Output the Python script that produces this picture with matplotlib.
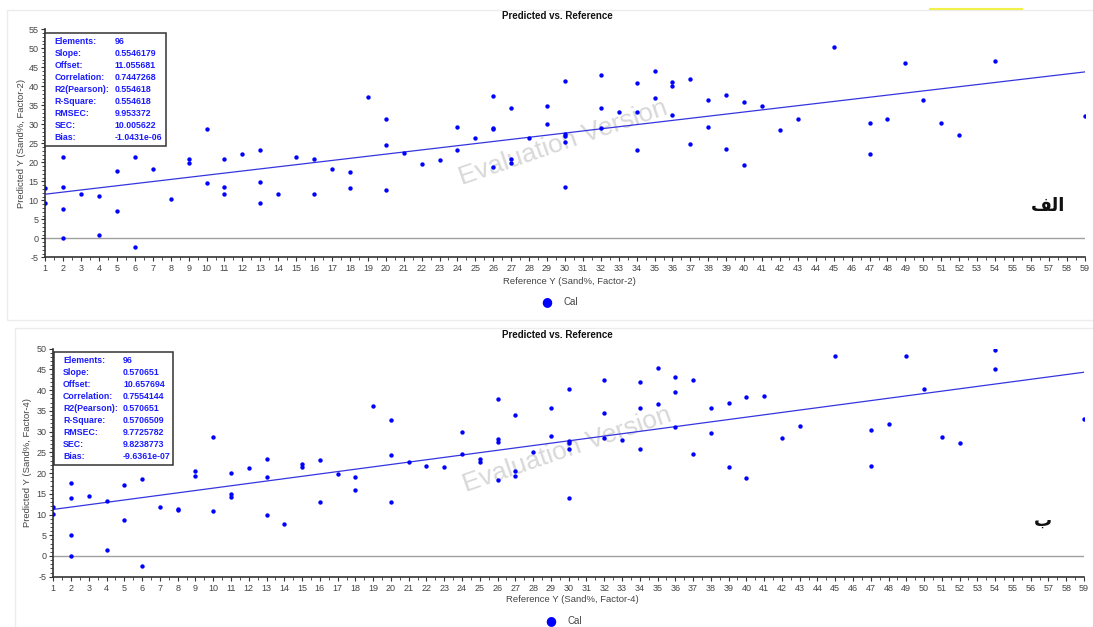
import matplotlib.pyplot as plt
from matplotlib.patches import Rectangle
from matplotlib.ticker import MultipleLocator

# =============================================================================
# DATA - read off the two Predicted vs. Reference panels
# =============================================================================
# Panel (الف) : Factor-2
ref_a = [1, 1, 2, 2, 2, 2, 3, 4, 4, 5, 5, 6, 6, 7, 8, 9, 9, 10, 10, 11, 11, 11,
         12, 13, 13, 13, 14, 15, 16, 16, 17, 18, 18, 19, 20, 20, 20,
         21, 22, 23, 24, 24, 25, 26, 26, 26, 26, 27, 27, 27, 28, 29, 29,
         30, 30, 30, 30, 30, 32, 32, 32, 33, 34, 34, 34, 35, 35, 36, 36, 36,
         37, 37, 38, 38, 39, 39, 40, 40, 41, 42,
         43, 45, 47, 47, 48, 49, 50, 51, 52, 54, 59]
pred_a = [13.2, 9.2, 21.3, 13.5, 7.8, 0.1, 11.7, 11.1, 0.8, 17.6, 7.2, 21.5, -2.2,
          18.2, 10.4, 21.0, 19.8, 28.7, 14.5, 20.8, 13.5, 11.7,
          22.2, 23.2, 14.9, 9.2, 11.7, 21.5, 20.8, 11.7, 18.2, 17.5, 13.2, 37.2,
          31.3, 24.5, 12.8,
          22.4, 19.5, 20.5, 29.2, 23.3, 26.5, 37.4, 29.1, 28.8, 18.7, 34.2, 21.0,
          19.8, 26.3, 34.8, 30.1,
          41.3, 27.4, 26.8, 25.4, 13.6, 43.1, 34.2, 29.1, 33.3, 40.8, 33.3, 23.2,
          44.0, 36.8, 41.1, 40.2, 32.5,
          42.0, 24.7, 36.3, 29.2, 37.7, 23.5, 35.8, 19.3, 34.8, 28.5,
          31.3, 50.4, 30.4, 22.2, 31.4, 46.1, 36.5, 30.4, 27.2, 46.7, 32.2]

# Panel (ب) : Factor-4
ref_b = [1, 1, 2, 2, 2, 2, 3, 4, 4, 5, 5, 6, 6, 7, 8, 8, 9, 9, 10, 10, 11, 11, 11,
         12, 13, 13, 13, 14, 15, 15, 16, 16, 17, 18, 18, 19, 20, 20, 20,
         21, 22, 23, 24, 24, 25, 25, 26, 26, 26, 26, 27, 27, 27, 28, 29, 29,
         30, 30, 30, 30, 30, 32, 32, 32, 33, 34, 34, 34, 35, 35, 36, 36, 36,
         37, 37, 38, 38, 39, 39, 40, 40, 41,
         42, 43, 45, 47, 47, 48, 49, 50, 51, 52, 54, 54, 59]
pred_b = [11.9, 10.1, 17.5, 13.9, 5.0, 0.1, 14.5, 13.2, 1.4, 17.2, 8.6, 18.6, -2.4,
          11.8, 11.4, 11.1, 20.6, 19.3, 28.7, 10.8, 19.9, 15.0, 14.3,
          21.2, 23.5, 19.1, 9.9, 7.6, 22.3, 21.4, 23.1, 13.1, 19.8, 19.1, 16.0,
          36.2, 32.7, 24.3, 13.1,
          22.6, 21.8, 21.4, 30.0, 24.7, 23.5, 22.7, 37.8, 28.2, 27.5, 18.3,
          34.1, 20.5, 19.4, 25.0, 35.8, 28.9,
          40.2, 27.8, 27.2, 25.8, 14.1, 42.4, 34.5, 28.5, 28.0, 41.9, 35.6, 25.8,
          45.4, 36.6, 43.1, 39.5, 31.0,
          42.4, 24.7, 35.6, 29.7, 36.8, 21.4, 38.3, 18.8, 38.7,
          28.5, 31.4, 48.3, 30.4, 21.7, 31.8, 48.3, 40.3, 28.7, 27.2, 49.8, 45.2,
          33.1]

stat_labels = ["Elements:", "Slope:", "Offset:", "Correlation:", "R2(Pearson):",
               "R-Square:", "RMSEC:", "SEC:", "Bias:"]
stats_a = ["96", "0.5546179", "11.055681", "0.7447268", "0.554618",
           "0.554618", "9.953372", "10.005622", "-1.0431e-06"]
stats_b = ["96", "0.570651", "10.657694", "0.7554144", "0.570651",
           "0.5706509", "9.7725782", "9.8238773", "-9.6361e-07"]
slope_a, offset_a = 0.5546179, 11.055681
slope_b, offset_b = 0.570651, 10.657694

# =============================================================================
# PLOTTING
# =============================================================================
W, H = 1093, 627
plt.rcParams['font.family'] = ['Liberation Sans', 'DejaVu Sans']
plt.rcParams['axes.unicode_minus'] = False
fig = plt.figure(figsize=(W / 100, H / 100), dpi=100)
fig.patch.set_facecolor('white')


def fx(px):
    return px / W


def fy(py):
    return 1 - py / H


# faint panel frames
fig.patches.append(Rectangle((fx(7), fy(320)), fx(1100 - 7), fy(10) - fy(320),
                             transform=fig.transFigure, fill=False,
                             edgecolor='#ececec', lw=1))
fig.patches.append(Rectangle((fx(15), fy(640)), fx(1100 - 15), fy(328) - fy(640),
                             transform=fig.transFigure, fill=False,
                             edgecolor='#ececec', lw=1))
# yellow highlight stroke at the top right
fig.add_artist(plt.Line2D([fx(930), fx(1022)], [fy(9), fy(9)],
                          transform=fig.transFigure, color='#f2f04a', lw=1.5))


def panel(rect, xs, ys, slope, offset, ylim, values, tag, tag_pos,
          factor, title_y, xlabel_y, ylabel_x, box, wm_pos):
    left, bottom, right, top = rect
    ax = fig.add_axes([fx(left), fy(bottom), fx(right - left), fy(top) - fy(bottom)])
    ax.set_xlim(1, 59)
    ax.set_ylim(*ylim)
    for s in ['top', 'right']:
        ax.spines[s].set_visible(False)
    for s in ['left', 'bottom']:
        ax.spines[s].set_color('#333333')
        ax.spines[s].set_linewidth(1.2)
    ax.xaxis.set_major_locator(MultipleLocator(1))
    ax.xaxis.set_minor_locator(MultipleLocator(0.5))
    ax.yaxis.set_major_locator(MultipleLocator(5))
    ax.yaxis.set_minor_locator(MultipleLocator(1))
    ax.tick_params(which='major', length=3, width=0.8, color='#333333',
                   labelsize=6.5, labelcolor='#444444', pad=2)
    ax.tick_params(which='minor', length=2, width=0.6, color='#333333')
    ax.axhline(0, color='#a0a0a0', lw=1)

    xl = [1, 59]
    ax.plot(xl, [slope * x + offset for x in xl], color='#3535e0', lw=0.9, zorder=2)
    ax.scatter(xs, ys, s=10, color='#0000ff', zorder=3, linewidths=0)

    # watermark sits behind the marks
    ax.text(wm_pos[0], wm_pos[1], "Evaluation Version", transform=fig.transFigure,
            fontsize=19, color='#d8d8d8', rotation=19, ha='center', va='center',
            zorder=1)

    # stats box
    bl, bt, br, bb = box
    fig.patches.append(Rectangle((fx(bl), fy(bb)), fx(br - bl), fy(bt) - fy(bb),
                                 transform=fig.transFigure, facecolor='white',
                                 edgecolor='#333333', lw=1.1, zorder=5))
    step = (bb - bt - 11) / 8.5
    for i, (lab, val) in enumerate(zip(stat_labels, values)):
        yy = bt + 8.5 + i * step
        fig.text(fx(bl + 9), fy(yy), lab, fontsize=6.3, color='#1a1aff',
                 fontweight='bold', ha='left', va='center', zorder=6)
        fig.text(fx(bl + 69), fy(yy), val, fontsize=6.3, color='#1a1aff',
                 fontweight='bold', ha='left', va='center', zorder=6)

    cx = (left + right) / 2
    fig.text(fx(557), fy(title_y), "Predicted vs. Reference",
             fontsize=7, fontweight='bold', ha='center', va='center', color='#111111')
    fig.text(fx(cx + 4), fy(xlabel_y), f"Reference Y (Sand%, Factor-{factor})",
             fontsize=6.8, ha='center', va='center', color='#444444')
    fig.text(fx(ylabel_x), (fy(bottom) + fy(top)) / 2,
             f"Predicted Y (Sand%, Factor-{factor})",
             fontsize=6.8, ha='center', va='center', color='#444444', rotation=90)
    fig.text(fx(tag_pos[0]), fy(tag_pos[1]), tag, fontsize=13, fontweight='bold',
             family=['DejaVu Sans'], ha='center', va='center', color='#111111')
    return ax


# visual-order presentation forms for the Arabic labels
tag_a = "\uFED2\uFEDF\uFE8D"   # الف
tag_b = "\u0628"               # ب

panel((45.3, 257.3, 1084.6, 29.3), ref_a, pred_a, slope_a, offset_a, (-5, 55),
      stats_a, tag_a, (1048, 206), 2, 16, 281, 22, (45.3, 33.3, 165.7, 146),
      (fx(563), fy(143)))
fig.text(fx(547), fy(302), "\u25CF", fontsize=9, color='#0000ff', ha='center',
         va='center', family=['DejaVu Sans'])
fig.text(fx(563), fy(302), "Cal", fontsize=7, color='#444444', ha='left', va='center')

panel((53.3, 576.7, 1084.0, 348.7), ref_b, pred_b, slope_b, offset_b, (-5, 50),
      stats_b, tag_b, (1043, 521), 4, 335, 599, 28, (54, 352, 172.7, 465.3),
      (fx(567), fy(450)))
fig.text(fx(551), fy(621), "\u25CF", fontsize=9, color='#0000ff', ha='center',
         va='center', family=['DejaVu Sans'])
fig.text(fx(567), fy(621), "Cal", fontsize=7, color='#444444', ha='left', va='center')

plt.savefig('out.png', dpi=100, facecolor='white')
